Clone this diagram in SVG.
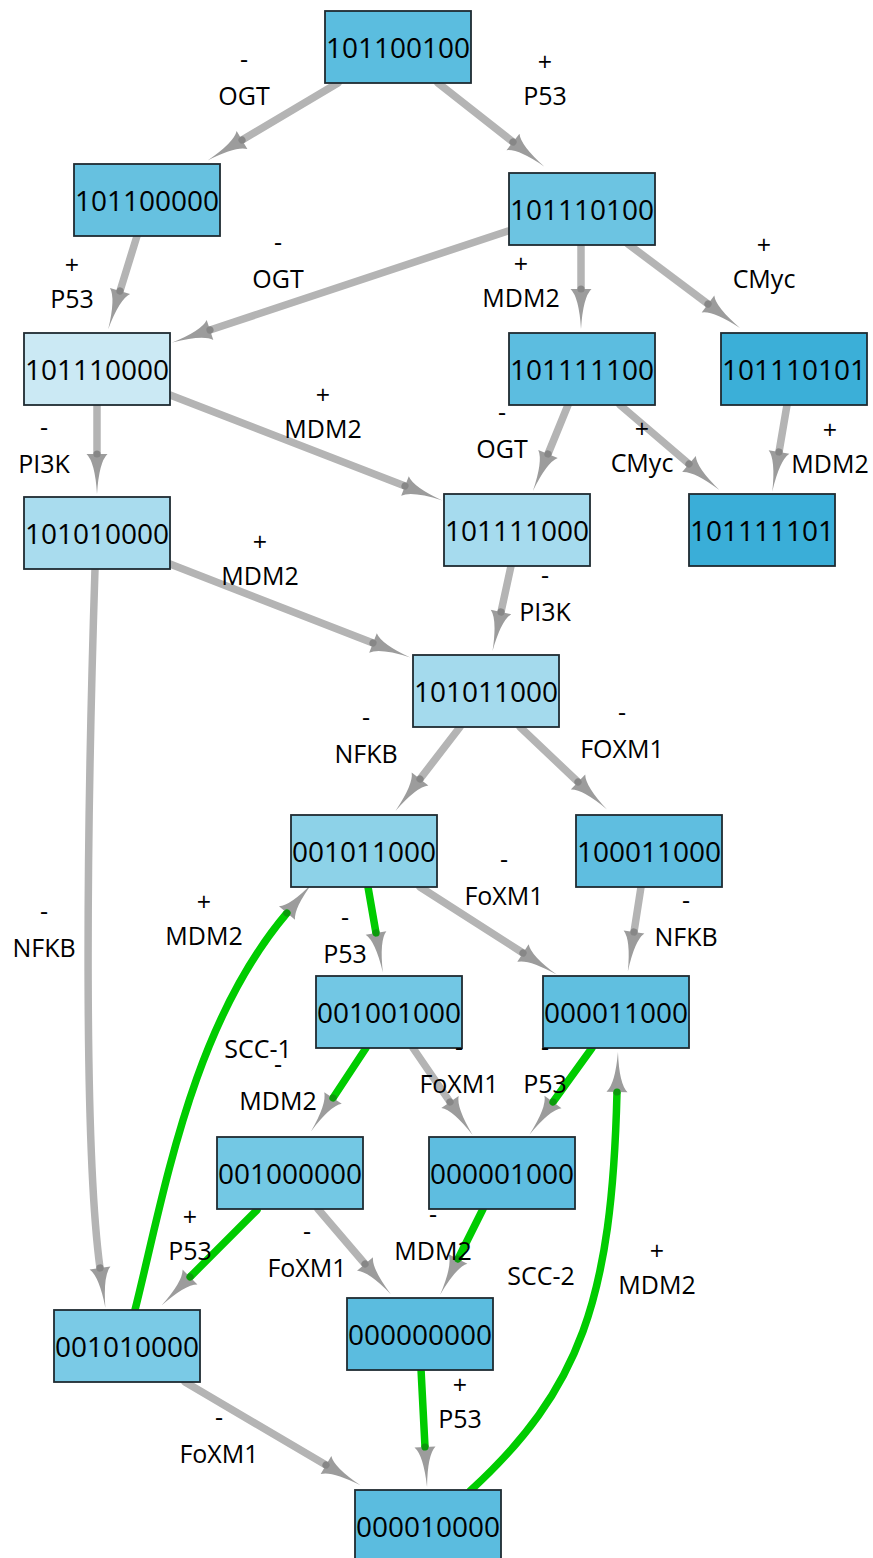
<svg xmlns="http://www.w3.org/2000/svg" width="873" height="1558" viewBox="0 0 873 1558">
<style>
.e{fill:none;stroke-width:7.5;stroke-linecap:round}
.g{stroke:#b4b4b4;marker-end:url(#ag)}
.v{stroke:#00cc00;marker-end:url(#av)}
.n rect{stroke:#1f2b31;stroke-width:1.8}
.n text{font-family:"Open Sans","Noto Sans",sans-serif;font-size:28px;text-anchor:middle;fill:#000}
.l text{font-family:"Open Sans","Noto Sans",sans-serif;font-size:25px;text-anchor:middle;fill:#000}
</style>
<defs>
<marker id="ag" markerUnits="userSpaceOnUse" orient="auto" refX="0" refY="0" markerWidth="44" markerHeight="24" overflow="visible">
<path d="M0,-10.5 Q8,-2 40,0 Q8,2 0,10.5 Z" fill="#9c9c9c"/>
<circle cx="0" cy="0" r="3.6" fill="#878787"/>
</marker>
<marker id="av" markerUnits="userSpaceOnUse" orient="auto" refX="0" refY="0" markerWidth="44" markerHeight="24" overflow="visible">
<path d="M0,-10.5 Q8,-2 40,0 Q8,2 0,10.5 Z" fill="#9c9c9c"/>
<circle cx="0" cy="0" r="3.6" fill="#0b9a0b"/>
</marker>
</defs>
<rect x="0" y="0" width="873" height="1558" fill="#fff"/>
<g id="connectors">
<path class="e g" d="M338,83 L242,140"/>
<path class="e g" d="M438,83 L513,142"/>
<path class="e g" d="M137,236 L120,291"/>
<path class="e g" d="M508,231 L210,330"/>
<path class="e g" d="M581,244 L581,289"/>
<path class="e g" d="M628,244 L708,304"/>
<path class="e g" d="M97,405 L97,454"/>
<path class="e g" d="M170,395 L405,486"/>
<path class="e g" d="M568,405 L548,454"/>
<path class="e g" d="M620,405 L689,464"/>
<path class="e g" d="M787,405 L779,452"/>
<path class="e g" d="M511,566 L501,612"/>
<path class="e g" d="M170,564 L373,643"/>
<path class="e g" d="M95,569 C86,850 84,1150 100,1268"/>
<path class="e g" d="M460,727 L420,779"/>
<path class="e g" d="M520,727 L578,782"/>
<path class="e v" d="M368,887 L376,933"/>
<path class="e g" d="M420,887 L523,953"/>
<path class="e g" d="M641,887 L634,932"/>
<path class="e v" d="M366,1048 L333,1098"/>
<path class="e g" d="M413,1048 L450,1102"/>
<path class="e v" d="M592,1048 L553,1102"/>
<path class="e v" d="M257,1210 L190,1277"/>
<path class="e g" d="M318,1209 L365,1264"/>
<path class="e v" d="M483,1209 L458,1259"/>
<path class="e v" d="M135,1310 C165,1190 192,1025 287,913"/>
<path class="e g" d="M185,1382 L326,1465"/>
<path class="e v" d="M421,1369 L425,1447"/>
<path class="e v" d="M470,1491 C580,1390 612,1300 617,1092"/>
</g>
<g id="n101100100" class="n"><rect x="325" y="11" width="146" height="72" fill="#5bbddf"/><text x="398" y="58">101100100</text></g>
<g id="n101100000" class="n"><rect x="74" y="164" width="146" height="72" fill="#66c1e0"/><text x="147" y="211">101100000</text></g>
<g id="n101110100" class="n"><rect x="509" y="173" width="146" height="72" fill="#6cc4e2"/><text x="582" y="220">101110100</text></g>
<g id="n101110000" class="n"><rect x="24" y="333" width="146" height="72" fill="#cbe9f4"/><text x="97" y="380">101110000</text></g>
<g id="n101111100" class="n"><rect x="509" y="333" width="146" height="72" fill="#5cbde0"/><text x="582" y="380">101111100</text></g>
<g id="n101110101" class="n"><rect x="721" y="333" width="146" height="72" fill="#3bafd8"/><text x="794" y="380">101110101</text></g>
<g id="n101010000" class="n"><rect x="24" y="497" width="146" height="72" fill="#a9dcee"/><text x="97" y="544">101010000</text></g>
<g id="n101111000" class="n"><rect x="444" y="494" width="146" height="72" fill="#a6dbee"/><text x="517" y="541">101111000</text></g>
<g id="n101111101" class="n"><rect x="689" y="494" width="146" height="72" fill="#3aaed8"/><text x="762" y="541">101111101</text></g>
<g id="n101011000" class="n"><rect x="413" y="655" width="146" height="72" fill="#a4daed"/><text x="486" y="702">101011000</text></g>
<g id="n001011000" class="n"><rect x="291" y="815" width="146" height="72" fill="#8dd2e8"/><text x="364" y="862">001011000</text></g>
<g id="n100011000" class="n"><rect x="576" y="815" width="146" height="72" fill="#5fbee0"/><text x="649" y="862">100011000</text></g>
<g id="n001001000" class="n"><rect x="316" y="976" width="146" height="72" fill="#72c7e4"/><text x="389" y="1023">001001000</text></g>
<g id="n000011000" class="n"><rect x="543" y="976" width="146" height="72" fill="#60bfe0"/><text x="616" y="1023">000011000</text></g>
<g id="n001000000" class="n"><rect x="217" y="1137" width="146" height="72" fill="#73c8e4"/><text x="290" y="1184">001000000</text></g>
<g id="n000001000" class="n"><rect x="429" y="1137" width="146" height="72" fill="#5ebde0"/><text x="502" y="1184">000001000</text></g>
<g id="n001010000" class="n"><rect x="54" y="1310" width="146" height="72" fill="#7acae6"/><text x="127" y="1357">001010000</text></g>
<g id="n000000000" class="n"><rect x="347" y="1298" width="146" height="72" fill="#5bbcdf"/><text x="420" y="1345">000000000</text></g>
<g id="n000010000" class="n"><rect x="355" y="1490" width="146" height="72" fill="#5bbcdf"/><text x="428" y="1537">000010000</text></g>
<g id="edge-labels" class="l">
<text x="244" y="68">-</text><text x="244" y="105">OGT</text>
<text x="545" y="71">+</text><text x="545" y="105">P53</text>
<text x="72" y="274">+</text><text x="72" y="308">P53</text>
<text x="278" y="251">-</text><text x="278" y="288">OGT</text>
<text x="521" y="273">+</text><text x="521" y="307">MDM2</text>
<text x="764" y="254">+</text><text x="764" y="288">CMyc</text>
<text x="44" y="436">-</text><text x="44" y="473">PI3K</text>
<text x="323" y="404">+</text><text x="323" y="438">MDM2</text>
<text x="502" y="421">-</text><text x="502" y="458">OGT</text>
<text x="642" y="438">+</text><text x="642" y="472">CMyc</text>
<text x="830" y="439">+</text><text x="830" y="473">MDM2</text>
<text x="545" y="584">-</text><text x="545" y="621">PI3K</text>
<text x="260" y="551">+</text><text x="260" y="585">MDM2</text>
<text x="44" y="920">-</text><text x="44" y="957">NFKB</text>
<text x="366" y="726">-</text><text x="366" y="763">NFKB</text>
<text x="622" y="721">-</text><text x="622" y="758">FOXM1</text>
<text x="345" y="926">-</text><text x="345" y="963">P53</text>
<text x="504" y="868">-</text><text x="504" y="905">FoXM1</text>
<text x="686" y="909">-</text><text x="686" y="946">NFKB</text>
<text x="278" y="1073">-</text><text x="278" y="1110">MDM2</text>
<text x="459" y="1056">-</text><text x="459" y="1093">FoXM1</text>
<text x="545" y="1056">-</text><text x="545" y="1093">P53</text>
<text x="190" y="1226">+</text><text x="190" y="1260">P53</text>
<text x="307" y="1240">-</text><text x="307" y="1277">FoXM1</text>
<text x="433" y="1223">-</text><text x="433" y="1260">MDM2</text>
<text x="204" y="911">+</text><text x="204" y="945">MDM2</text>
<text x="258" y="1058">SCC-1</text>
<text x="219" y="1426">-</text><text x="219" y="1463">FoXM1</text>
<text x="460" y="1394">+</text><text x="460" y="1428">P53</text>
<text x="657" y="1260">+</text><text x="657" y="1294">MDM2</text>
<text x="541" y="1285">SCC-2</text>
</g>
</svg>
